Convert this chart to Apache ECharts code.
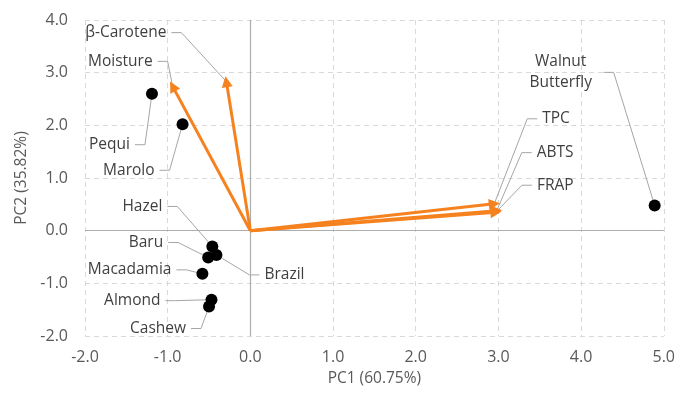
<!DOCTYPE html>
<html>
<head>
<meta charset="utf-8">
<script src="https://cdn.jsdelivr.net/npm/echarts@6/dist/echarts.min.js"></script>
<style>
html,body{margin:0;padding:0;background:#fff;}
#chart{width:678px;height:395px;}
</style>
</head>
<body>
<div id="chart"></div>
<script>
// ---- data ----
const sampleNames = ['Pequi', 'Marolo', 'Hazel', 'Brazil', 'Baru', 'Macadamia', 'Almond', 'Cashew', 'Walnut\nButterfly'];
const samplePC1 = [-1.19, -0.82, -0.46, -0.41, -0.51, -0.58, -0.47, -0.50, 4.89];
const samplePC2 = [2.60, 2.02, -0.30, -0.46, -0.51, -0.82, -1.31, -1.44, 0.48];

const variableNames = ['Moisture', 'β-Carotene', 'TPC', 'ABTS', 'FRAP'];
const variablePC1 = [-0.94, -0.29, 2.95, 2.98, 2.97];
const variablePC2 = [2.74, 2.83, 0.51, 0.38, 0.35];

const xTicks = [-2, -1, 0, 1, 2, 3, 4, 5];
const yTicks = [-2, -1, 0, 1, 2, 3, 4];
const xTitle = 'PC1 (60.75%)';
const yTitle = 'PC2 (35.82%)';

// ---- label placement (pixel offsets from the labelled mark) ----
const labelPlacement = {
  'Pequi':            {dx: -22, dy: 51,  align: 'right'},
  'Marolo':           {dx: -28, dy: 46,  align: 'right'},
  'Hazel':            {dx: -50, dy: -40, align: 'right'},
  'Brazil':           {dx: 48,  dy: 20,  align: 'left'},
  'Baru':             {dx: -45, dy: -15, align: 'right'},
  'Macadamia':        {dx: -31, dy: -4,  align: 'right'},
  'Almond':           {dx: -51, dy: 1,   align: 'right'},
  'Cashew':           {dx: -23, dy: 22,  align: 'right'},
  'Walnut\nButterfly':{dx: -94, dy: -133, align: 'center', half: 38},
  'Moisture':         {dx: -20, dy: -25, align: 'right'},
  'β-Carotene':       {dx: -60, dy: -49, align: 'right'},
  'TPC':              {dx: 48,  dy: -85, align: 'left'},
  'ABTS':             {dx: 40,  dy: -58, align: 'left'},
  'FRAP':             {dx: 41,  dy: -27, align: 'left'}
};

const FONT = '"Open Sans", "Noto Sans", sans-serif';
const ORANGE = '#F5821F';
const TXT = '#3F3F3F';
const TICK = '#595959';

const labelItems = [];
sampleNames.forEach((n, i) => labelItems.push({name: n, value: [samplePC1[i], samplePC2[i]]}));
variableNames.forEach((n, i) => labelItems.push({name: n, value: [variablePC1[i], variablePC2[i]]}));

const chart = echarts.init(document.getElementById('chart'), null, {renderer: 'canvas'});

const option = {
  backgroundColor: '#ffffff',
  animation: false,
  grid: {left: 85, right: 14, top: 20, bottom: 59},
  xAxis: {
    type: 'value', min: xTicks[0], max: xTicks[xTicks.length - 1], interval: 1,
    name: xTitle, nameLocation: 'middle', nameGap: 35,
    nameTextStyle: {color: TICK, fontSize: 15.5, fontFamily: FONT},
    axisLine: {show: false}, axisTick: {show: false},
    axisLabel: {color: TICK, fontSize: 16, fontFamily: FONT, margin: 13,
      formatter: v => v.toFixed(1)},
    splitLine: {show: true, lineStyle: {color: '#D9D9D9', type: [5, 4], width: 1}}
  },
  yAxis: {
    type: 'value', min: yTicks[0], max: yTicks[yTicks.length - 1], interval: 1,
    name: yTitle, nameLocation: 'middle', nameGap: 53,
    nameTextStyle: {color: TICK, fontSize: 15.5, fontFamily: FONT},
    axisLine: {show: false}, axisTick: {show: false},
    axisLabel: {color: TICK, fontSize: 16, fontFamily: FONT, margin: 17,
      formatter: v => v.toFixed(1)},
    splitLine: {show: true, lineStyle: {color: '#D9D9D9', type: [5, 4], width: 1}}
  },
  series: [
    {
      type: 'custom',
      name: 'labels',
      z: 1,
      clip: false,
      silent: true,
      data: labelItems,
      encode: {x: 0, y: 1},
      renderItem: function (params, api) {
        const item = labelItems[params.dataIndex];
        const L = labelPlacement[item.name];
        const p = api.coord([api.value(0), api.value(1)]);
        const tx = p[0] + L.dx, ty = p[1] + L.dy;
        let edge, s;
        if (L.align === 'right') { edge = tx; s = 1; }
        else if (L.align === 'left') { edge = tx; s = -1; }
        else { edge = tx + L.half; s = 1; }
        const a = edge + 5 * s, b = edge + 15 * s;
        return {
          type: 'group',
          children: [
            {type: 'polyline', shape: {points: [[p[0], p[1]], [b, ty], [a, ty]]},
             style: {stroke: '#A6A6A6', lineWidth: 1, fill: null}},
            {type: 'text', style: {text: item.name, x: tx, y: ty, align: L.align,
              verticalAlign: 'middle', fill: TXT, fontSize: 15.5, fontFamily: FONT, lineHeight: 21}}
          ]
        };
      }
    },
    {
      type: 'lines',
      name: 'variables',
      coordinateSystem: 'cartesian2d',
      z: 3,
      silent: true,
      symbol: ['none', 'triangle'],
      symbolSize: 11,
      lineStyle: {color: ORANGE, width: 3, opacity: 1, curveness: 0},
      itemStyle: {color: ORANGE},
      data: variableNames.map((n, i) => ({name: n, coords: [[0, 0], [variablePC1[i], variablePC2[i]]]}))
    },
    {
      type: 'scatter',
      name: 'samples',
      z: 4,
      symbol: 'circle',
      symbolSize: 12,
      itemStyle: {color: '#000000', opacity: 1},
      data: sampleNames.map((n, i) => ({name: n, value: [samplePC1[i], samplePC2[i]]})),
      markLine: {
        silent: true, symbol: 'none', label: {show: false}, z: 2,
        lineStyle: {color: '#ADADAD', type: 'solid', width: 1.2},
        data: [{xAxis: 0}, {yAxis: 0}]
      }
    }
  ]
};
chart.setOption(option);
</script>
</body>
</html>
